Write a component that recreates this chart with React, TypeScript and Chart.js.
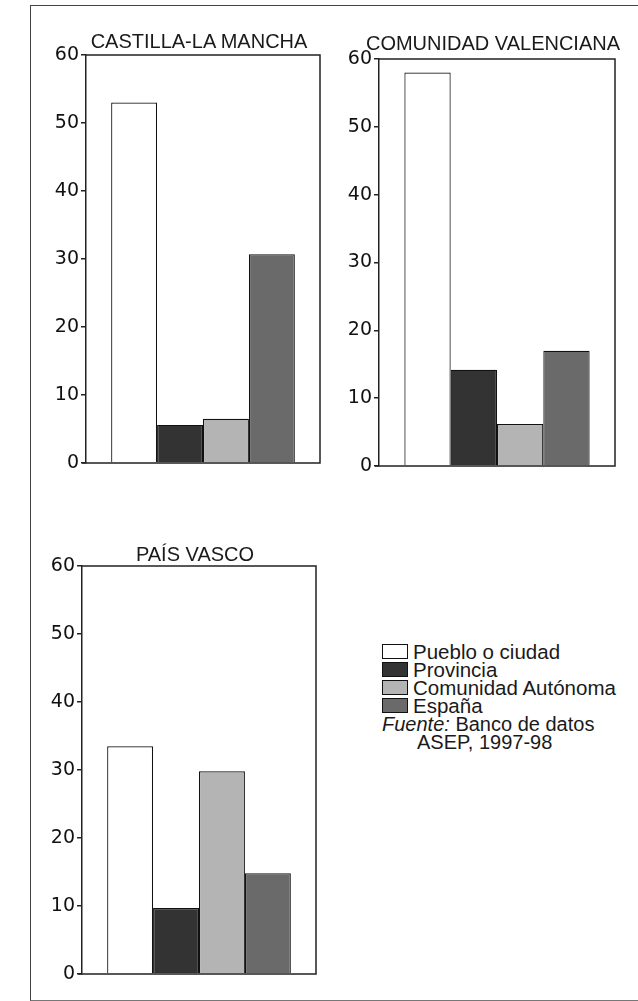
import React, { useEffect, useRef } from "react";
import { Chart, registerables } from "chart.js";

Chart.register(...registerables);

// ---- data ----
const seriesNames = ["Pueblo o ciudad", "Provincia", "Comunidad Autónoma", "España"];
const seriesColors = ["#ffffff", "#333333", "#b4b4b4", "#6a6a6a"];
const regionTitles = ["CASTILLA-LA MANCHA", "COMUNIDAD VALENCIANA", "PAÍS VASCO"];
const castillaValues = [53, 5.6, 6.5, 30.7];
const valencianaValues = [58, 14.2, 6.2, 17];
const vascoValues = [33.5, 9.7, 29.8, 14.8];
const yMin = 0;
const yMax = 60;
const yStep = 10;
const sourceLabel = "Fuente:";
const sourceText = "Banco de datos";
const sourceText2 = "ASEP, 1997-98";

const FONT = "'Liberation Sans', Arial, sans-serif";
const TICK_FONT = "'DejaVu Sans', sans-serif";
const INK = "#1a1a1a";

const framePlugin = {
  id: "frameBox",
  afterDatasetsDraw(chart: any) {
    const { ctx, chartArea } = chart;
    const { left, top, right, bottom } = chartArea;
    ctx.save();
    ctx.strokeStyle = "#222";
    ctx.lineWidth = 1.5;
    ctx.beginPath();
    ctx.moveTo(left, top);
    ctx.lineTo(right, top);
    ctx.lineTo(right, bottom);
    ctx.lineTo(left - 4, bottom);
    ctx.stroke();
    ctx.restore();
  },
};

type PanelProps = {
  title: string;
  values: number[];
  left: number;
  top: number;
  width: number;
  height: number;
  pad: { l: number; r: number; t: number; b: number };
  titleTop: number;
};

function Panel({ title, values, left, top, width, height, pad, titleTop }: PanelProps) {
  const ref = useRef<HTMLCanvasElement | null>(null);
  useEffect(() => {
    if (!ref.current) return;
    const chart = new Chart(ref.current, {
      type: "bar",
      data: {
        labels: [title],
        datasets: seriesNames.map((name, i) => ({
          label: name,
          data: [values[i]],
          backgroundColor: seriesColors[i],
          borderColor: "#111",
          borderWidth: 1.2,
          categoryPercentage: 0.785,
          barPercentage: 1,
        })),
      },
      options: {
        responsive: false,
        maintainAspectRatio: false,
        animation: false,
        layout: { padding: { left: pad.l, right: pad.r, top: pad.t, bottom: pad.b } },
        plugins: {
          legend: { display: false },
          tooltip: { enabled: false },
          title: { display: false },
        },
        scales: {
          x: { display: false },
          y: {
            min: yMin,
            max: yMax,
            afterFit: (s: any) => {
              s.width = 42;
            },
            ticks: {
              stepSize: yStep,
              color: "#111",
              padding: 2,
              font: { family: TICK_FONT, size: 19 },
            },
            grid: {
              drawOnChartArea: false,
              drawTicks: true,
              tickLength: 5,
              color: "#222",
              lineWidth: 1.5,
            },
            border: { display: true, color: "#222", width: 1.5 },
          },
        },
      },
      plugins: [framePlugin],
    } as any);
    return () => chart.destroy();
  }, [title, values]);

  const areaLeft = left + pad.l + 42;
  const areaRight = left + width - pad.r;
  return (
    <>
      <canvas
        ref={ref}
        width={width}
        height={height}
        style={{ position: "absolute", left, top, width, height }}
      />
      <div
        style={{
          position: "absolute",
          left: areaLeft - 64,
          width: areaRight - areaLeft + 120,
          top: titleTop,
          textAlign: "center",
          font: `20px ${FONT}`,
          color: INK,
          lineHeight: "22px",
          whiteSpace: "nowrap",
        }}
      >
        {title}
      </div>
    </>
  );
}

function Legend() {
  const rowTops = [643, 661, 679, 697];
  return (
    <>
      {seriesNames.map((name, i) => (
        <div key={name}>
          <div
            style={{
              position: "absolute",
              left: 382,
              top: rowTops[i] + 1,
              width: 24,
              height: 13,
              background: seriesColors[i],
              border: "1.5px solid #111",
            }}
          />
          <div
            style={{
              position: "absolute",
              left: 413,
              top: rowTops[i],
              font: `20.5px ${FONT}`,
              lineHeight: "18px",
              color: INK,
              whiteSpace: "nowrap",
            }}
          >
            {name}
          </div>
        </div>
      ))}
      <div
        style={{
          position: "absolute",
          left: 382,
          top: 715,
          font: `20px ${FONT}`,
          lineHeight: "18px",
          color: INK,
          whiteSpace: "nowrap",
        }}
      >
        <i>{sourceLabel}</i> {sourceText}
      </div>
      <div
        style={{
          position: "absolute",
          left: 417,
          top: 733,
          font: `20px ${FONT}`,
          lineHeight: "18px",
          color: INK,
          whiteSpace: "nowrap",
        }}
      >
        {sourceText2}
      </div>
    </>
  );
}

export default function App() {
  return (
    <div
      style={{
        position: "absolute",
        left: 0,
        top: 0,
        width: 638,
        height: 1001,
        overflow: "hidden",
        background: "#fff",
      }}
    >
      <div
        style={{
          position: "absolute",
          left: 30,
          top: 5,
          width: 620,
          height: 994,
          borderLeft: "1.5px solid #444",
          borderTop: "1.5px solid #444",
          borderBottom: "1.5px solid #777",
        }}
      />
      <Panel
        title={regionTitles[0]}
        values={castillaValues}
        left={30}
        top={0}
        width={300}
        height={480}
        pad={{ l: 14, r: 10, t: 55, b: 17 }}
        titleTop={30}
      />
      <Panel
        title={regionTitles[1]}
        values={valencianaValues}
        left={330}
        top={0}
        width={308}
        height={480}
        pad={{ l: 7, r: 23, t: 59, b: 14 }}
        titleTop={32}
      />
      <Panel
        title={regionTitles[2]}
        values={vascoValues}
        left={30}
        top={520}
        width={300}
        height={470}
        pad={{ l: 10, r: 14, t: 46, b: 16 }}
        titleTop={543}
      />
      <Legend />
    </div>
  );
}
